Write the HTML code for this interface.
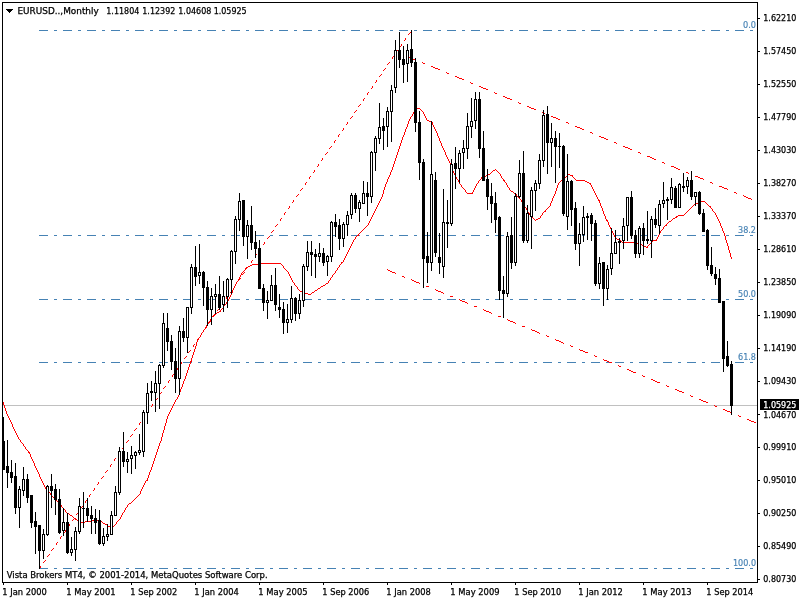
<!DOCTYPE html>
<html><head><meta charset="utf-8"><title>EURUSD Monthly</title>
<style>
html,body{margin:0;padding:0;background:#fff;}
body{width:800px;height:600px;overflow:hidden;position:relative;}
svg{position:absolute;left:0;top:0;display:block;}
text{font-family:"DejaVu Sans Condensed", "Liberation Sans", sans-serif;font-size:9px;fill:#000;stroke:#000;stroke-width:0.25px;}
.b{fill:#4682B4;stroke:#4682B4;stroke-width:0.15px;}
.w{fill:#fff;stroke:#fff;}
</style></head><body>
<svg width="800" height="600" viewBox="0 0 800 600">
<rect x="0" y="0" width="800" height="600" fill="#fff"/>
<g shape-rendering="crispEdges">
<rect x="3" y="405" width="754" height="1" fill="#C0C0C0"/>
<path d="M39 30h9M54 30h3M63 30h9M78 30h3M87 30h9M102 30h3M111 30h9M126 30h3M135 30h9M150 30h3M159 30h9M174 30h3M183 30h9M198 30h3M207 30h9M222 30h3M231 30h9M246 30h3M255 30h9M270 30h3M279 30h9M294 30h3M303 30h9M318 30h3M327 30h9M342 30h3M351 30h9M366 30h3M375 30h9M390 30h3M399 30h9M414 30h3M423 30h9M438 30h3M447 30h9M462 30h3M471 30h9M486 30h3M495 30h9M510 30h3M519 30h9M534 30h3M543 30h9M558 30h3M567 30h9M582 30h3M591 30h9M606 30h3M615 30h9M630 30h3M639 30h9M654 30h3M663 30h9M678 30h3M687 30h9M702 30h3M711 30h9M726 30h3M735 30h9M750 30h3" stroke="#4682B4" stroke-width="1" fill="none" transform="translate(0,0.5)"/>
<path d="M39 235h9M54 235h3M63 235h9M78 235h3M87 235h9M102 235h3M111 235h9M126 235h3M135 235h9M150 235h3M159 235h9M174 235h3M183 235h9M198 235h3M207 235h9M222 235h3M231 235h9M246 235h3M255 235h9M270 235h3M279 235h9M294 235h3M303 235h9M318 235h3M327 235h9M342 235h3M351 235h9M366 235h3M375 235h9M390 235h3M399 235h9M414 235h3M423 235h9M438 235h3M447 235h9M462 235h3M471 235h9M486 235h3M495 235h9M510 235h3M519 235h9M534 235h3M543 235h9M558 235h3M567 235h9M582 235h3M591 235h9M606 235h3M615 235h9M630 235h3M639 235h9M654 235h3M663 235h9M678 235h3M687 235h9M702 235h3M711 235h9M726 235h3M735 235h9M750 235h3" stroke="#4682B4" stroke-width="1" fill="none" transform="translate(0,0.5)"/>
<path d="M39 299h9M54 299h3M63 299h9M78 299h3M87 299h9M102 299h3M111 299h9M126 299h3M135 299h9M150 299h3M159 299h9M174 299h3M183 299h9M198 299h3M207 299h9M222 299h3M231 299h9M246 299h3M255 299h9M270 299h3M279 299h9M294 299h3M303 299h9M318 299h3M327 299h9M342 299h3M351 299h9M366 299h3M375 299h9M390 299h3M399 299h9M414 299h3M423 299h9M438 299h3M447 299h9M462 299h3M471 299h9M486 299h3M495 299h9M510 299h3M519 299h9M534 299h3M543 299h9M558 299h3M567 299h9M582 299h3M591 299h9M606 299h3M615 299h9M630 299h3M639 299h9M654 299h3M663 299h9M678 299h3M687 299h9M702 299h3M711 299h9M726 299h3M735 299h9M750 299h3" stroke="#4682B4" stroke-width="1" fill="none" transform="translate(0,0.5)"/>
<path d="M39 362h9M54 362h3M63 362h9M78 362h3M87 362h9M102 362h3M111 362h9M126 362h3M135 362h9M150 362h3M159 362h9M174 362h3M183 362h9M198 362h3M207 362h9M222 362h3M231 362h9M246 362h3M255 362h9M270 362h3M279 362h9M294 362h3M303 362h9M318 362h3M327 362h9M342 362h3M351 362h9M366 362h3M375 362h9M390 362h3M399 362h9M414 362h3M423 362h9M438 362h3M447 362h9M462 362h3M471 362h9M486 362h3M495 362h9M510 362h3M519 362h9M534 362h3M543 362h9M558 362h3M567 362h9M582 362h3M591 362h9M606 362h3M615 362h9M630 362h3M639 362h9M654 362h3M663 362h9M678 362h3M687 362h9M702 362h3M711 362h9M726 362h3M735 362h9M750 362h3" stroke="#4682B4" stroke-width="1" fill="none" transform="translate(0,0.5)"/>
<path d="M39 568h9M54 568h3M63 568h9M78 568h3M87 568h9M102 568h3M111 568h9M126 568h3M135 568h9M150 568h3M159 568h9M174 568h3M183 568h9M198 568h3M207 568h9M222 568h3M231 568h9M246 568h3M255 568h9M270 568h3M279 568h9M294 568h3M303 568h9M318 568h3M327 568h9M342 568h3M351 568h9M366 568h3M375 568h9M390 568h3M399 568h9M414 568h3M423 568h9M438 568h3M447 568h9M462 568h3M471 568h9M486 568h3M495 568h9M510 568h3M519 568h9M534 568h3M543 568h9M558 568h3M567 568h9M582 568h3M591 568h9M606 568h3M615 568h9M630 568h3M639 568h9M654 568h3M663 568h9M678 568h3M687 568h9M702 568h3M711 568h9M726 568h3M735 568h9M750 568h3" stroke="#4682B4" stroke-width="1" fill="none" transform="translate(0,0.5)"/>
<path d="M3 402h1v3h-1zM4 405h1v3h-1zM5 408h1v3h-1zM6 411h1v3h-1zM7 414h1v2h-1zM8 416h1v2h-1zM9 418h1v2h-1zM10 420h1v2h-1zM11 422h1v2h-1zM12 424h1v3h-1zM13 427h1v2h-1zM14 429h1v2h-1zM15 431h1v2h-1zM16 433h1v2h-1zM17 435h1v2h-1zM18 437h1v2h-1zM19 439h1v1h-1zM20 440h1v2h-1zM21 442h1v1h-1zM22 443h1v1h-1zM23 444h1v2h-1zM24 446h1v1h-1zM25 447h1v2h-1zM26 449h1v1h-1zM27 450h1v1h-1zM28 451h1v2h-1zM29 452h1v2h-1zM30 454h1v3h-1zM31 457h1v2h-1zM32 459h1v2h-1zM33 461h1v2h-1zM34 463h1v3h-1zM35 466h1v2h-1zM36 468h1v2h-1zM37 470h1v2h-1zM38 472h1v2h-1zM39 474h1v3h-1zM40 477h1v2h-1zM41 479h1v2h-1zM42 481h1v2h-1zM43 483h1v2h-1zM44 485h1v2h-1zM45 487h1v2h-1zM46 489h1v1h-1zM47 490h1v1h-1zM48 491h1v1h-1zM49 492h1v1h-1zM50 493h1v2h-1zM51 495h1v1h-1zM52 496h1v1h-1zM53 497h1v1h-1zM54 498h1v1h-1zM55 499h1v1h-1zM56 500h1v1h-1zM57 501h1v1h-1zM58 502h1v1h-1zM59 503h1v1h-1zM60 504h1v1h-1zM61 505h1v2h-1zM62 507h1v1h-1zM63 508h1v1h-1zM64 509h1v1h-1zM65 510h1v2h-1zM66 512h1v1h-1zM67 513h1v1h-1zM68 513h1v1h-1zM69 514h1v1h-1zM70 515h1v1h-1zM71 515h1v1h-1zM72 516h1v1h-1zM73 517h1v1h-1zM74 518h1v1h-1zM75 518h1v2h-1zM76 519h1v1h-1zM77 520h1v1h-1zM78 520h1v1h-1zM79 521h1v1h-1zM80 521h1v1h-1zM81 522h1v1h-1zM82 522h1v1h-1zM83 522h1v1h-1zM84 522h1v1h-1zM85 521h1v1h-1zM86 521h1v1h-1zM87 521h1v1h-1zM88 521h1v1h-1zM89 521h1v1h-1zM90 521h1v1h-1zM91 521h1v1h-1zM92 520h1v1h-1zM93 520h1v1h-1zM94 520h1v1h-1zM95 520h1v1h-1zM96 520h1v1h-1zM97 520h1v1h-1zM98 520h1v1h-1zM99 520h1v1h-1zM100 520h1v1h-1zM101 521h1v1h-1zM102 522h1v1h-1zM103 523h1v1h-1zM104 523h1v1h-1zM105 524h1v1h-1zM106 524h1v1h-1zM107 525h1v1h-1zM108 526h1v1h-1zM109 526h1v1h-1zM110 526h1v1h-1zM111 526h1v1h-1zM112 526h1v1h-1zM113 526h1v1h-1zM114 525h1v1h-1zM115 524h1v1h-1zM116 522h1v2h-1zM117 521h1v1h-1zM118 520h1v1h-1zM119 519h1v1h-1zM120 517h1v2h-1zM121 515h1v2h-1zM122 513h1v2h-1zM123 512h1v1h-1zM124 510h1v2h-1zM125 508h1v2h-1zM126 507h1v1h-1zM127 505h1v2h-1zM128 504h1v1h-1zM129 503h1v1h-1zM130 503h1v1h-1zM131 502h1v1h-1zM132 501h1v1h-1zM133 500h1v1h-1zM134 499h1v1h-1zM135 498h1v1h-1zM136 497h1v1h-1zM137 496h1v1h-1zM138 495h1v1h-1zM139 494h1v1h-1zM140 491h1v3h-1zM141 489h1v2h-1zM142 487h1v2h-1zM143 485h1v2h-1zM144 483h1v2h-1zM145 481h1v2h-1zM146 480h1v1h-1zM147 478h1v3h-1zM148 475h1v3h-1zM149 472h1v3h-1zM150 470h1v2h-1zM151 467h1v3h-1zM152 464h1v3h-1zM153 461h1v3h-1zM154 458h1v3h-1zM155 455h1v3h-1zM156 452h1v3h-1zM157 449h1v3h-1zM158 446h1v3h-1zM159 443h1v3h-1zM160 441h1v2h-1zM161 437h1v4h-1zM162 433h1v4h-1zM163 430h1v3h-1zM164 426h1v4h-1zM165 423h1v3h-1zM166 419h1v4h-1zM167 416h1v3h-1zM168 414h1v2h-1zM169 412h1v2h-1zM170 410h1v2h-1zM171 408h1v2h-1zM172 406h1v2h-1zM173 404h1v2h-1zM174 402h1v2h-1zM175 400h1v2h-1zM176 399h1v1h-1zM177 397h1v2h-1zM178 395h1v2h-1zM179 392h1v3h-1zM180 389h1v3h-1zM181 387h1v2h-1zM182 384h1v3h-1zM183 381h1v3h-1zM184 379h1v2h-1zM185 376h1v3h-1zM186 373h1v3h-1zM187 370h1v3h-1zM188 367h1v3h-1zM189 364h1v3h-1zM190 361h1v3h-1zM191 358h1v4h-1zM192 355h1v3h-1zM193 352h1v3h-1zM194 349h1v3h-1zM195 346h1v3h-1zM196 342h1v4h-1zM197 340h1v2h-1zM198 338h1v2h-1zM199 337h1v1h-1zM200 335h1v2h-1zM201 333h1v2h-1zM202 332h1v1h-1zM203 330h1v2h-1zM204 329h1v1h-1zM205 327h1v2h-1zM206 325h1v2h-1zM207 324h1v1h-1zM208 322h1v2h-1zM209 321h1v1h-1zM210 319h1v2h-1zM211 317h1v2h-1zM212 316h1v1h-1zM213 315h1v1h-1zM214 314h1v1h-1zM215 313h1v1h-1zM216 313h1v1h-1zM217 312h1v1h-1zM218 312h1v1h-1zM219 311h1v1h-1zM220 310h1v2h-1zM221 309h1v1h-1zM222 308h1v1h-1zM223 306h1v2h-1zM224 305h1v1h-1zM225 304h1v1h-1zM226 302h1v2h-1zM227 301h1v1h-1zM228 299h1v2h-1zM229 297h1v2h-1zM230 295h1v2h-1zM231 293h1v2h-1zM232 290h1v3h-1zM233 288h1v2h-1zM234 286h1v2h-1zM235 284h1v2h-1zM236 282h1v2h-1zM237 281h1v1h-1zM238 279h1v2h-1zM239 277h1v2h-1zM240 275h1v2h-1zM241 273h1v2h-1zM242 272h1v1h-1zM243 271h1v1h-1zM244 270h1v1h-1zM245 268h1v2h-1zM246 267h1v1h-1zM247 267h1v1h-1zM248 266h1v1h-1zM249 266h1v1h-1zM250 265h1v1h-1zM251 265h1v1h-1zM252 264h1v1h-1zM253 264h1v1h-1zM254 264h1v1h-1zM255 264h1v1h-1zM256 264h1v1h-1zM257 264h1v1h-1zM258 264h1v1h-1zM259 263h1v1h-1zM260 263h1v1h-1zM261 263h1v1h-1zM262 263h1v1h-1zM263 263h1v1h-1zM264 263h1v1h-1zM265 263h1v1h-1zM266 263h1v1h-1zM267 263h1v1h-1zM268 263h1v1h-1zM269 263h1v1h-1zM270 263h1v1h-1zM271 263h1v1h-1zM272 263h1v1h-1zM273 263h1v1h-1zM274 263h1v1h-1zM275 263h1v1h-1zM276 263h1v1h-1zM277 263h1v1h-1zM278 263h1v1h-1zM279 263h1v1h-1zM280 263h1v1h-1zM281 264h1v1h-1zM282 265h1v1h-1zM283 266h1v2h-1zM284 268h1v1h-1zM285 269h1v1h-1zM286 270h1v1h-1zM287 271h1v1h-1zM288 272h1v2h-1zM289 274h1v2h-1zM290 276h1v2h-1zM291 278h1v2h-1zM292 280h1v2h-1zM293 282h1v1h-1zM294 283h1v2h-1zM295 285h1v1h-1zM296 286h1v1h-1zM297 287h1v2h-1zM298 289h1v1h-1zM299 290h1v1h-1zM300 291h1v1h-1zM301 291h1v1h-1zM302 292h1v1h-1zM303 292h1v1h-1zM304 293h1v1h-1zM305 293h1v1h-1zM306 293h1v1h-1zM307 293h1v1h-1zM308 294h1v1h-1zM309 294h1v1h-1zM310 294h1v1h-1zM311 293h1v1h-1zM312 292h1v1h-1zM313 292h1v1h-1zM314 291h1v1h-1zM315 290h1v1h-1zM316 290h1v1h-1zM317 289h1v1h-1zM318 288h1v1h-1zM319 288h1v1h-1zM320 287h1v1h-1zM321 286h1v1h-1zM322 286h1v1h-1zM323 285h1v1h-1zM324 285h1v1h-1zM325 284h1v1h-1zM326 283h1v1h-1zM327 283h1v1h-1zM328 281h1v2h-1zM329 280h1v1h-1zM330 278h1v2h-1zM331 277h1v1h-1zM332 275h1v2h-1zM333 274h1v1h-1zM334 273h1v1h-1zM335 271h1v2h-1zM336 270h1v1h-1zM337 268h1v2h-1zM338 267h1v1h-1zM339 265h1v2h-1zM340 264h1v1h-1zM341 262h1v2h-1zM342 262h1v1h-1zM343 260h1v2h-1zM344 258h1v2h-1zM345 256h1v2h-1zM346 254h1v2h-1zM347 252h1v2h-1zM348 250h1v2h-1zM349 248h1v2h-1zM350 246h1v2h-1zM351 244h1v2h-1zM352 242h1v2h-1zM353 240h1v2h-1zM354 239h1v1h-1zM355 237h1v2h-1zM356 236h1v1h-1zM357 235h1v1h-1zM358 234h1v2h-1zM359 233h1v1h-1zM360 232h1v1h-1zM361 231h1v1h-1zM362 230h1v1h-1zM363 229h1v1h-1zM364 228h1v1h-1zM365 227h1v1h-1zM366 226h1v1h-1zM367 225h1v1h-1zM368 223h1v2h-1zM369 221h1v2h-1zM370 219h1v2h-1zM371 217h1v2h-1zM372 215h1v2h-1zM373 213h1v2h-1zM374 211h1v2h-1zM375 209h1v2h-1zM376 207h1v2h-1zM377 205h1v2h-1zM378 203h1v2h-1zM379 201h1v2h-1zM380 199h1v2h-1zM381 197h1v2h-1zM382 194h1v3h-1zM383 190h1v4h-1zM384 187h1v3h-1zM385 184h1v3h-1zM386 182h1v2h-1zM387 179h1v3h-1zM388 177h1v2h-1zM389 175h1v2h-1zM390 172h1v3h-1zM391 170h1v2h-1zM392 167h1v3h-1zM393 164h1v3h-1zM394 161h1v3h-1zM395 158h1v3h-1zM396 155h1v3h-1zM397 152h1v3h-1zM398 149h1v3h-1zM399 146h1v3h-1zM400 143h1v3h-1zM401 140h1v3h-1zM402 137h1v3h-1zM403 135h1v2h-1zM404 132h1v3h-1zM405 129h1v3h-1zM406 127h1v2h-1zM407 124h1v3h-1zM408 121h1v3h-1zM409 119h1v2h-1zM410 117h1v2h-1zM411 116h1v1h-1zM412 114h1v2h-1zM413 112h1v2h-1zM414 111h1v1h-1zM415 110h1v1h-1zM416 109h1v1h-1zM417 108h1v1h-1zM418 108h1v1h-1zM419 108h1v1h-1zM420 109h1v1h-1zM421 110h1v1h-1zM422 111h1v1h-1zM423 112h1v2h-1zM424 114h1v2h-1zM425 116h1v2h-1zM426 118h1v2h-1zM427 120h1v1h-1zM428 120h1v1h-1zM429 121h1v1h-1zM430 121h1v1h-1zM431 122h1v1h-1zM432 122h1v3h-1zM433 125h1v2h-1zM434 127h1v2h-1zM435 129h1v2h-1zM436 131h1v2h-1zM437 133h1v3h-1zM438 136h1v2h-1zM439 138h1v3h-1zM440 141h1v2h-1zM441 143h1v3h-1zM442 146h1v2h-1zM443 148h1v2h-1zM444 150h1v2h-1zM445 152h1v3h-1zM446 155h1v2h-1zM447 157h1v2h-1zM448 159h1v2h-1zM449 161h1v2h-1zM450 163h1v3h-1zM451 166h1v2h-1zM452 168h1v3h-1zM453 171h1v2h-1zM454 173h1v2h-1zM455 175h1v2h-1zM456 177h1v2h-1zM457 179h1v1h-1zM458 180h1v2h-1zM459 182h1v2h-1zM460 184h1v1h-1zM461 185h1v2h-1zM462 187h1v1h-1zM463 188h1v1h-1zM464 189h1v1h-1zM465 190h1v2h-1zM466 192h1v1h-1zM467 193h1v1h-1zM468 193h1v1h-1zM469 193h1v1h-1zM470 193h1v1h-1zM471 193h1v1h-1zM472 192h1v2h-1zM473 190h1v2h-1zM474 188h1v2h-1zM475 186h1v2h-1zM476 184h1v2h-1zM477 183h1v1h-1zM478 181h1v2h-1zM479 180h1v1h-1zM480 179h1v1h-1zM481 177h1v2h-1zM482 177h1v1h-1zM483 176h1v1h-1zM484 176h1v1h-1zM485 176h1v1h-1zM486 175h1v1h-1zM487 175h1v1h-1zM488 174h1v1h-1zM489 174h1v1h-1zM490 173h1v1h-1zM491 172h1v1h-1zM492 171h1v1h-1zM493 170h1v1h-1zM494 170h1v1h-1zM495 169h1v1h-1zM496 170h1v1h-1zM497 171h1v1h-1zM498 172h1v1h-1zM499 173h1v1h-1zM500 174h1v2h-1zM501 176h1v2h-1zM502 178h1v1h-1zM503 179h1v2h-1zM504 180h1v2h-1zM505 182h1v1h-1zM506 183h1v2h-1zM507 185h1v2h-1zM508 187h1v1h-1zM509 188h1v2h-1zM510 190h1v1h-1zM511 191h1v1h-1zM512 191h1v1h-1zM513 192h1v1h-1zM514 193h1v1h-1zM515 193h1v1h-1zM516 194h1v2h-1zM517 196h1v1h-1zM518 197h1v1h-1zM519 198h1v1h-1zM520 199h1v1h-1zM521 200h1v2h-1zM522 202h1v2h-1zM523 204h1v2h-1zM524 206h1v1h-1zM525 207h1v1h-1zM526 208h1v2h-1zM527 210h1v2h-1zM528 212h1v1h-1zM529 213h1v2h-1zM530 215h1v1h-1zM531 216h1v1h-1zM532 217h1v1h-1zM533 218h1v1h-1zM534 219h1v1h-1zM535 220h1v1h-1zM536 219h1v1h-1zM537 219h1v1h-1zM538 218h1v1h-1zM539 218h1v1h-1zM540 216h1v2h-1zM541 215h1v1h-1zM542 213h1v2h-1zM543 212h1v1h-1zM544 211h1v1h-1zM545 210h1v2h-1zM546 209h1v1h-1zM547 208h1v1h-1zM548 207h1v1h-1zM549 206h1v1h-1zM550 203h1v3h-1zM551 201h1v2h-1zM552 198h1v3h-1zM553 196h1v2h-1zM554 194h1v2h-1zM555 191h1v3h-1zM556 188h1v3h-1zM557 185h1v3h-1zM558 183h1v2h-1zM559 182h1v1h-1zM560 181h1v1h-1zM561 180h1v1h-1zM562 179h1v2h-1zM563 178h1v1h-1zM564 177h1v1h-1zM565 177h1v1h-1zM566 176h1v1h-1zM567 175h1v1h-1zM568 174h1v1h-1zM569 174h1v1h-1zM570 175h1v1h-1zM571 175h1v1h-1zM572 175h1v2h-1zM573 177h1v1h-1zM574 178h1v1h-1zM575 179h1v1h-1zM576 180h1v1h-1zM577 180h1v1h-1zM578 180h1v1h-1zM579 180h1v1h-1zM580 180h1v1h-1zM581 180h1v1h-1zM582 180h1v1h-1zM583 180h1v1h-1zM584 180h1v1h-1zM585 181h1v1h-1zM586 181h1v1h-1zM587 182h1v1h-1zM588 182h1v1h-1zM589 183h1v1h-1zM590 183h1v2h-1zM591 185h1v2h-1zM592 187h1v2h-1zM593 189h1v2h-1zM594 191h1v2h-1zM595 193h1v2h-1zM596 195h1v2h-1zM597 197h1v2h-1zM598 199h1v2h-1zM599 200h1v3h-1zM600 203h1v3h-1zM601 206h1v2h-1zM602 208h1v3h-1zM603 211h1v3h-1zM604 214h1v2h-1zM605 216h1v3h-1zM606 219h1v2h-1zM607 220h1v2h-1zM608 222h1v3h-1zM609 225h1v2h-1zM610 227h1v2h-1zM611 229h1v2h-1zM612 231h1v2h-1zM613 233h1v2h-1zM614 235h1v2h-1zM615 237h1v2h-1zM616 238h1v1h-1zM617 239h1v1h-1zM618 239h1v1h-1zM619 240h1v1h-1zM620 240h1v1h-1zM621 241h1v1h-1zM622 242h1v1h-1zM623 243h1v1h-1zM624 242h1v1h-1zM625 242h1v1h-1zM626 242h1v1h-1zM627 242h1v1h-1zM628 242h1v1h-1zM629 242h1v1h-1zM630 242h1v1h-1zM631 242h1v1h-1zM632 242h1v1h-1zM633 242h1v1h-1zM634 242h1v1h-1zM635 243h1v1h-1zM636 243h1v1h-1zM637 243h1v1h-1zM638 244h1v1h-1zM639 244h1v1h-1zM640 244h1v1h-1zM641 244h1v1h-1zM642 245h1v1h-1zM643 245h1v1h-1zM644 246h1v1h-1zM645 246h1v1h-1zM646 247h1v1h-1zM647 246h1v2h-1zM648 245h1v1h-1zM649 244h1v1h-1zM650 243h1v1h-1zM651 242h1v1h-1zM652 241h1v1h-1zM653 240h1v1h-1zM654 240h1v1h-1zM655 240h1v1h-1zM656 239h1v2h-1zM657 237h1v2h-1zM658 235h1v2h-1zM659 233h1v2h-1zM660 231h1v2h-1zM661 230h1v1h-1zM662 229h1v1h-1zM663 227h1v2h-1zM664 226h1v1h-1zM665 225h1v1h-1zM666 224h1v2h-1zM667 223h1v1h-1zM668 222h1v1h-1zM669 221h1v1h-1zM670 221h1v1h-1zM671 220h1v1h-1zM672 219h1v1h-1zM673 218h1v1h-1zM674 218h1v1h-1zM675 217h1v1h-1zM676 216h1v2h-1zM677 216h1v1h-1zM678 215h1v1h-1zM679 215h1v1h-1zM680 215h1v1h-1zM681 215h1v1h-1zM682 215h1v1h-1zM683 215h1v1h-1zM684 214h1v1h-1zM685 213h1v1h-1zM686 212h1v1h-1zM687 211h1v1h-1zM688 210h1v1h-1zM689 209h1v1h-1zM690 208h1v1h-1zM691 207h1v1h-1zM692 206h1v1h-1zM693 205h1v1h-1zM694 204h1v1h-1zM695 204h1v1h-1zM696 203h1v1h-1zM697 203h1v1h-1zM698 203h1v1h-1zM699 202h1v1h-1zM700 202h1v1h-1zM701 201h1v1h-1zM702 201h1v1h-1zM703 201h1v1h-1zM704 201h1v1h-1zM705 202h1v1h-1zM706 203h1v1h-1zM707 204h1v1h-1zM708 205h1v1h-1zM709 206h1v1h-1zM710 206h1v2h-1zM711 208h1v1h-1zM712 209h1v2h-1zM713 211h1v1h-1zM714 212h1v1h-1zM715 213h1v2h-1zM716 215h1v2h-1zM717 217h1v2h-1zM718 219h1v2h-1zM719 221h1v2h-1zM720 223h1v3h-1zM721 226h1v2h-1zM722 228h1v3h-1zM723 231h1v2h-1zM724 233h1v3h-1zM725 236h1v4h-1zM726 240h1v3h-1zM727 243h1v3h-1zM728 246h1v4h-1zM729 250h1v3h-1zM730 253h1v4h-1zM731 257h1v2h-1z" fill="#FF0000"/>
<path d="M410 32h1v1h-1zM409 33h1v1h-1zM408 34h1v1h-1zM405 38h1v1h-1zM405 39h1v1h-1zM404 40h1v1h-1zM401 44h1v1h-1zM401 45h1v1h-1zM400 46h1v1h-1zM397 50h1v1h-1zM396 51h1v1h-1zM396 52h1v1h-1zM393 56h1v1h-1zM392 57h1v1h-1zM392 58h1v1h-1zM389 62h1v1h-1zM388 63h1v1h-1zM387 64h1v1h-1zM385 68h1v1h-1zM384 69h1v1h-1zM383 70h1v1h-1zM381 74h1v1h-1zM380 75h1v1h-1zM379 76h1v1h-1zM376 80h1v1h-1zM376 81h1v1h-1zM375 82h1v1h-1zM372 86h1v1h-1zM372 87h1v1h-1zM371 88h1v1h-1zM368 92h1v1h-1zM367 93h1v1h-1zM367 94h1v1h-1zM364 98h1v1h-1zM363 99h1v1h-1zM363 100h1v1h-1zM360 104h1v1h-1zM359 105h1v1h-1zM358 106h1v1h-1zM356 110h1v1h-1zM355 111h1v1h-1zM354 112h1v1h-1zM352 116h1v1h-1zM351 117h1v1h-1zM350 118h1v1h-1zM347 122h1v1h-1zM347 123h1v1h-1zM346 124h1v1h-1zM343 128h1v1h-1zM343 129h1v1h-1zM342 130h1v1h-1zM339 134h1v1h-1zM338 135h1v1h-1zM338 136h1v1h-1zM335 140h1v1h-1zM334 141h1v1h-1zM334 142h1v1h-1zM331 146h1v1h-1zM330 147h1v1h-1zM329 148h1v1h-1zM327 152h1v1h-1zM326 153h1v1h-1zM325 154h1v1h-1zM322 158h1v1h-1zM322 159h1v1h-1zM321 160h1v1h-1zM318 164h1v1h-1zM318 165h1v1h-1zM317 166h1v1h-1zM314 170h1v1h-1zM314 171h1v1h-1zM313 172h1v1h-1zM310 176h1v1h-1zM309 177h1v1h-1zM309 178h1v1h-1zM306 182h1v1h-1zM305 183h1v1h-1zM305 184h1v1h-1zM302 188h1v1h-1zM301 189h1v1h-1zM300 190h1v1h-1zM298 194h1v1h-1zM297 195h1v1h-1zM296 196h1v1h-1zM293 200h1v1h-1zM293 201h1v1h-1zM292 202h1v1h-1zM289 206h1v1h-1zM289 207h1v1h-1zM288 208h1v1h-1zM285 212h1v1h-1zM284 213h1v1h-1zM284 214h1v1h-1zM281 218h1v1h-1zM280 219h1v1h-1zM280 220h1v1h-1zM277 224h1v1h-1zM276 225h1v1h-1zM275 226h1v1h-1zM273 230h1v1h-1zM272 231h1v1h-1zM271 232h1v1h-1zM269 236h1v1h-1zM268 237h1v1h-1zM267 238h1v1h-1zM264 242h1v1h-1zM264 243h1v1h-1zM263 244h1v1h-1zM260 248h1v1h-1zM260 249h1v1h-1zM259 250h1v1h-1zM256 254h1v1h-1zM255 255h1v1h-1zM255 256h1v1h-1zM252 260h1v1h-1zM251 261h1v1h-1zM251 262h1v1h-1zM248 266h1v1h-1zM247 267h1v1h-1zM246 268h1v1h-1zM244 272h1v1h-1zM243 273h1v1h-1zM242 274h1v1h-1zM240 278h1v1h-1zM239 279h1v1h-1zM238 280h1v1h-1zM235 284h1v1h-1zM235 285h1v1h-1zM234 286h1v1h-1zM231 290h1v1h-1zM231 291h1v1h-1zM230 292h1v1h-1zM227 296h1v1h-1zM226 297h1v1h-1zM226 298h1v1h-1zM223 302h1v1h-1zM222 303h1v1h-1zM222 304h1v1h-1zM219 308h1v1h-1zM218 309h1v1h-1zM217 310h1v1h-1zM215 314h1v1h-1zM214 315h1v1h-1zM213 316h1v1h-1zM210 320h1v1h-1zM210 321h1v1h-1zM209 322h1v1h-1zM206 326h1v1h-1zM206 327h1v1h-1zM205 328h1v1h-1zM202 332h1v1h-1zM201 333h1v1h-1zM201 334h1v1h-1zM198 338h1v1h-1zM197 339h1v1h-1zM197 340h1v1h-1zM194 344h1v1h-1zM193 345h1v1h-1zM193 346h1v1h-1zM190 350h1v1h-1zM189 351h1v1h-1zM188 352h1v1h-1zM186 356h1v1h-1zM185 357h1v1h-1zM184 358h1v1h-1zM181 362h1v1h-1zM181 363h1v1h-1zM180 364h1v1h-1zM177 368h1v1h-1zM177 369h1v1h-1zM176 370h1v1h-1zM173 374h1v1h-1zM172 375h1v1h-1zM172 376h1v1h-1zM169 380h1v1h-1zM168 381h1v1h-1zM168 382h1v1h-1zM165 386h1v1h-1zM164 387h1v1h-1zM163 388h1v1h-1zM161 392h1v1h-1zM160 393h1v1h-1zM159 394h1v1h-1zM157 398h1v1h-1zM156 399h1v1h-1zM155 400h1v1h-1zM152 404h1v1h-1zM152 405h1v1h-1zM151 406h1v1h-1zM148 410h1v1h-1zM148 411h1v1h-1zM147 412h1v1h-1zM144 416h1v1h-1zM143 417h1v1h-1zM143 418h1v1h-1zM140 422h1v1h-1zM139 423h1v1h-1zM139 424h1v1h-1zM136 428h1v1h-1zM135 429h1v1h-1zM134 430h1v1h-1zM132 434h1v1h-1zM131 435h1v1h-1zM130 436h1v1h-1zM128 440h1v1h-1zM127 441h1v1h-1zM126 442h1v1h-1zM123 446h1v1h-1zM123 447h1v1h-1zM122 448h1v1h-1zM119 452h1v1h-1zM119 453h1v1h-1zM118 454h1v1h-1zM115 458h1v1h-1zM114 459h1v1h-1zM114 460h1v1h-1zM111 464h1v1h-1zM110 465h1v1h-1zM110 466h1v1h-1zM107 470h1v1h-1zM106 471h1v1h-1zM105 472h1v1h-1zM103 476h1v1h-1zM102 477h1v1h-1zM101 478h1v1h-1zM98 482h1v1h-1zM98 483h1v1h-1zM97 484h1v1h-1zM94 488h1v1h-1zM94 489h1v1h-1zM93 490h1v1h-1zM90 494h1v1h-1zM89 495h1v1h-1zM89 496h1v1h-1zM86 500h1v1h-1zM85 501h1v1h-1zM85 502h1v1h-1zM82 506h1v1h-1zM81 507h1v1h-1zM80 508h1v1h-1zM78 512h1v1h-1zM77 513h1v1h-1zM76 514h1v1h-1zM74 518h1v1h-1zM73 519h1v1h-1zM72 520h1v1h-1zM69 524h1v1h-1zM69 525h1v1h-1zM68 526h1v1h-1zM65 530h1v1h-1zM65 531h1v1h-1zM64 532h1v1h-1zM61 536h1v1h-1zM60 537h1v1h-1zM60 538h1v1h-1zM57 542h1v1h-1zM56 543h1v1h-1zM56 544h1v1h-1zM53 548h1v1h-1zM52 549h1v1h-1zM51 550h1v1h-1zM49 554h1v1h-1zM48 555h1v1h-1zM47 556h1v1h-1zM45 560h1v1h-1zM44 561h1v1h-1zM43 562h1v1h-1zM40 566h1v1h-1zM40 567h1v1h-1zM39 568h1v1h-1z" fill="#FF0000"/>
<path d="M407 56h2v1h-2zM409 57h2v1h-2zM411 58h2v1h-2zM413 59h3v1h-3zM422 62h1v1h-1zM423 63h2v1h-2zM431 66h2v1h-2zM433 67h2v1h-2zM435 68h3v1h-3zM438 69h2v1h-2zM446 72h1v1h-1zM447 73h2v1h-2zM455 76h2v1h-2zM457 77h2v1h-2zM459 78h3v1h-3zM462 79h2v1h-2zM470 82h1v1h-1zM471 83h2v1h-2zM479 86h2v1h-2zM481 87h2v1h-2zM483 88h3v1h-3zM486 89h2v1h-2zM494 92h1v1h-1zM495 93h2v1h-2zM503 96h2v1h-2zM505 97h2v1h-2zM507 98h3v1h-3zM510 99h2v1h-2zM518 102h1v1h-1zM519 103h2v1h-2zM527 106h2v1h-2zM529 107h2v1h-2zM531 108h3v1h-3zM534 109h2v1h-2zM542 112h2v1h-2zM544 113h1v1h-1zM551 116h2v1h-2zM553 117h3v1h-3zM556 118h2v1h-2zM558 119h2v1h-2zM566 122h2v1h-2zM568 123h1v1h-1zM575 126h2v1h-2zM577 127h3v1h-3zM580 128h2v1h-2zM582 129h2v1h-2zM590 132h2v1h-2zM592 133h1v1h-1zM599 136h2v1h-2zM601 137h3v1h-3zM604 138h2v1h-2zM606 139h2v1h-2zM614 142h2v1h-2zM616 143h1v1h-1zM623 146h2v1h-2zM625 147h3v1h-3zM628 148h2v1h-2zM630 149h2v1h-2zM638 152h2v1h-2zM640 153h1v1h-1zM647 156h3v1h-3zM650 157h2v1h-2zM652 158h2v1h-2zM654 159h2v1h-2zM662 162h2v1h-2zM664 163h1v1h-1zM671 166h3v1h-3zM674 167h2v1h-2zM676 168h2v1h-2zM678 169h2v1h-2zM686 172h2v1h-2zM688 173h1v1h-1zM695 176h3v1h-3zM698 177h2v1h-2zM700 178h3v1h-3zM703 179h1v1h-1zM710 182h2v1h-2zM712 183h1v1h-1zM719 186h3v1h-3zM722 187h2v1h-2zM724 188h3v1h-3zM727 189h1v1h-1zM734 192h2v1h-2zM736 193h1v1h-1zM743 195h1v1h-1zM744 196h2v1h-2zM746 197h2v1h-2zM748 198h3v1h-3zM751 199h1v1h-1z" fill="#FF0000"/>
<path d="M387 269h1v1h-1zM388 270h2v1h-2zM390 271h2v1h-2zM392 272h3v1h-3zM395 273h1v1h-1zM402 276h2v1h-2zM404 277h1v1h-1zM411 279h1v1h-1zM412 280h2v1h-2zM414 281h2v1h-2zM416 282h3v1h-3zM419 283h1v1h-1zM426 286h3v1h-3zM435 289h1v1h-1zM436 290h2v1h-2zM438 291h3v1h-3zM441 292h2v1h-2zM443 293h1v1h-1zM450 296h3v1h-3zM459 299h1v1h-1zM460 300h2v1h-2zM462 301h3v1h-3zM465 302h2v1h-2zM467 303h1v1h-1zM474 306h3v1h-3zM483 309h1v1h-1zM484 310h2v1h-2zM486 311h3v1h-3zM489 312h2v1h-2zM491 313h1v1h-1zM498 316h3v1h-3zM507 319h1v1h-1zM508 320h2v1h-2zM510 321h3v1h-3zM513 322h2v1h-2zM515 323h1v1h-1zM522 326h3v1h-3zM531 329h1v1h-1zM532 330h3v1h-3zM535 331h2v1h-2zM537 332h2v1h-2zM539 333h1v1h-1zM546 335h1v1h-1zM547 336h2v1h-2zM555 339h1v1h-1zM556 340h3v1h-3zM559 341h2v1h-2zM561 342h2v1h-2zM563 343h1v1h-1zM570 345h1v1h-1zM571 346h2v1h-2zM579 349h1v1h-1zM580 350h3v1h-3zM583 351h2v1h-2zM585 352h3v1h-3zM594 355h1v1h-1zM595 356h2v1h-2zM603 359h1v1h-1zM604 360h3v1h-3zM607 361h2v1h-2zM609 362h3v1h-3zM618 365h1v1h-1zM619 366h2v1h-2zM627 369h2v1h-2zM629 370h2v1h-2zM631 371h2v1h-2zM633 372h3v1h-3zM642 375h1v1h-1zM643 376h2v1h-2zM651 379h2v1h-2zM653 380h2v1h-2zM655 381h2v1h-2zM657 382h3v1h-3zM666 385h1v1h-1zM667 386h2v1h-2zM675 389h2v1h-2zM677 390h2v1h-2zM679 391h3v1h-3zM682 392h2v1h-2zM690 395h1v1h-1zM691 396h2v1h-2zM699 399h2v1h-2zM701 400h2v1h-2zM703 401h3v1h-3zM706 402h2v1h-2zM714 405h1v1h-1zM715 406h2v1h-2zM723 409h2v1h-2zM725 410h2v1h-2zM727 411h3v1h-3zM730 412h2v1h-2zM738 415h1v1h-1zM739 416h2v1h-2zM747 419h2v1h-2zM749 420h2v1h-2zM751 421h3v1h-3zM754 422h2v1h-2z" fill="#FF0000"/>
<g fill="#000"><rect x="3" y="417" width="1" height="53"/><rect x="2" y="441" width="3" height="29"/><rect x="7" y="440" width="1" height="48"/><rect x="6" y="466" width="3" height="7"/><rect x="11" y="460" width="1" height="23"/><rect x="10" y="472" width="3" height="6"/><rect x="15" y="463" width="1" height="51"/><rect x="14" y="476" width="3" height="32"/><rect x="19" y="486" width="1" height="42"/><rect x="18" y="489" width="3" height="19"/><rect x="23" y="467" width="1" height="29"/><rect x="22" y="479" width="3" height="12"/><rect x="27" y="474" width="1" height="29"/><rect x="26" y="479" width="3" height="19"/><rect x="31" y="495" width="1" height="33"/><rect x="30" y="495" width="3" height="28"/><rect x="35" y="512" width="1" height="42"/><rect x="34" y="521" width="3" height="6"/><rect x="39" y="525" width="1" height="44"/><rect x="38" y="525" width="3" height="26"/><rect x="43" y="529" width="1" height="30"/><rect x="42" y="534" width="3" height="17"/><rect x="47" y="485" width="1" height="51"/><rect x="46" y="486" width="3" height="49"/><rect x="51" y="474" width="1" height="34"/><rect x="50" y="486" width="3" height="5"/><rect x="55" y="484" width="1" height="31"/><rect x="54" y="489" width="3" height="11"/><rect x="59" y="489" width="1" height="45"/><rect x="58" y="499" width="3" height="34"/><rect x="63" y="508" width="1" height="28"/><rect x="62" y="522" width="3" height="9"/><rect x="67" y="513" width="1" height="41"/><rect x="66" y="522" width="3" height="31"/><rect x="71" y="537" width="1" height="19"/><rect x="70" y="549" width="3" height="4"/><rect x="75" y="527" width="1" height="34"/><rect x="74" y="531" width="3" height="19"/><rect x="79" y="498" width="1" height="36"/><rect x="78" y="506" width="3" height="26"/><rect x="83" y="492" width="1" height="36"/><rect x="82" y="508" width="3" height="1"/><rect x="87" y="498" width="1" height="24"/><rect x="86" y="508" width="3" height="8"/><rect x="91" y="506" width="1" height="28"/><rect x="90" y="515" width="3" height="4"/><rect x="95" y="509" width="1" height="25"/><rect x="94" y="518" width="3" height="5"/><rect x="99" y="510" width="1" height="35"/><rect x="98" y="520" width="3" height="24"/><rect x="103" y="528" width="1" height="18"/><rect x="102" y="536" width="3" height="8"/><rect x="107" y="524" width="1" height="17"/><rect x="106" y="534" width="3" height="3"/><rect x="111" y="511" width="1" height="24"/><rect x="110" y="515" width="3" height="20"/><rect x="115" y="486" width="1" height="30"/><rect x="114" y="492" width="3" height="24"/><rect x="119" y="447" width="1" height="48"/><rect x="118" y="451" width="3" height="42"/><rect x="123" y="432" width="1" height="35"/><rect x="122" y="451" width="3" height="11"/><rect x="127" y="452" width="1" height="21"/><rect x="126" y="459" width="3" height="3"/><rect x="131" y="446" width="1" height="28"/><rect x="130" y="455" width="3" height="4"/><rect x="135" y="451" width="1" height="18"/><rect x="134" y="452" width="3" height="4"/><rect x="139" y="434" width="1" height="21"/><rect x="138" y="450" width="3" height="3"/><rect x="143" y="410" width="1" height="47"/><rect x="142" y="412" width="3" height="40"/><rect x="147" y="383" width="1" height="41"/><rect x="146" y="393" width="3" height="20"/><rect x="151" y="381" width="1" height="20"/><rect x="150" y="391" width="3" height="2"/><rect x="155" y="371" width="1" height="41"/><rect x="154" y="383" width="3" height="10"/><rect x="159" y="364" width="1" height="45"/><rect x="158" y="365" width="3" height="19"/><rect x="163" y="313" width="1" height="55"/><rect x="162" y="323" width="3" height="43"/><rect x="167" y="313" width="1" height="38"/><rect x="166" y="328" width="3" height="14"/><rect x="171" y="335" width="1" height="35"/><rect x="170" y="341" width="3" height="21"/><rect x="175" y="348" width="1" height="45"/><rect x="174" y="361" width="3" height="18"/><rect x="179" y="326" width="1" height="69"/><rect x="178" y="331" width="3" height="48"/><rect x="183" y="318" width="1" height="24"/><rect x="182" y="331" width="3" height="7"/><rect x="187" y="307" width="1" height="46"/><rect x="186" y="307" width="3" height="31"/><rect x="191" y="264" width="1" height="50"/><rect x="190" y="267" width="3" height="41"/><rect x="195" y="246" width="1" height="40"/><rect x="194" y="267" width="3" height="10"/><rect x="199" y="244" width="1" height="40"/><rect x="198" y="272" width="3" height="4"/><rect x="203" y="271" width="1" height="35"/><rect x="202" y="272" width="3" height="16"/><rect x="207" y="281" width="1" height="45"/><rect x="206" y="287" width="3" height="23"/><rect x="211" y="288" width="1" height="37"/><rect x="210" y="296" width="3" height="14"/><rect x="215" y="284" width="1" height="30"/><rect x="214" y="294" width="3" height="3"/><rect x="219" y="276" width="1" height="34"/><rect x="218" y="294" width="3" height="14"/><rect x="223" y="281" width="1" height="31"/><rect x="222" y="296" width="3" height="9"/><rect x="227" y="278" width="1" height="30"/><rect x="226" y="279" width="3" height="18"/><rect x="231" y="250" width="1" height="44"/><rect x="230" y="251" width="3" height="29"/><rect x="235" y="216" width="1" height="48"/><rect x="234" y="219" width="3" height="33"/><rect x="239" y="193" width="1" height="38"/><rect x="238" y="201" width="3" height="19"/><rect x="243" y="200" width="1" height="46"/><rect x="242" y="200" width="3" height="37"/><rect x="247" y="220" width="1" height="39"/><rect x="246" y="225" width="3" height="12"/><rect x="251" y="206" width="1" height="44"/><rect x="250" y="225" width="3" height="18"/><rect x="255" y="231" width="1" height="27"/><rect x="254" y="242" width="3" height="7"/><rect x="259" y="240" width="1" height="49"/><rect x="258" y="248" width="3" height="41"/><rect x="263" y="284" width="1" height="27"/><rect x="262" y="288" width="3" height="15"/><rect x="267" y="291" width="1" height="28"/><rect x="266" y="300" width="3" height="3"/><rect x="271" y="275" width="1" height="26"/><rect x="270" y="285" width="3" height="16"/><rect x="275" y="268" width="1" height="43"/><rect x="274" y="285" width="3" height="20"/><rect x="279" y="294" width="1" height="24"/><rect x="278" y="307" width="3" height="3"/><rect x="283" y="302" width="1" height="32"/><rect x="282" y="309" width="3" height="14"/><rect x="287" y="304" width="1" height="29"/><rect x="286" y="319" width="3" height="4"/><rect x="291" y="286" width="1" height="37"/><rect x="290" y="298" width="3" height="22"/><rect x="295" y="297" width="1" height="24"/><rect x="294" y="298" width="3" height="16"/><rect x="299" y="294" width="1" height="25"/><rect x="298" y="300" width="3" height="14"/><rect x="303" y="264" width="1" height="43"/><rect x="302" y="266" width="3" height="35"/><rect x="307" y="241" width="1" height="30"/><rect x="306" y="252" width="3" height="15"/><rect x="311" y="241" width="1" height="35"/><rect x="310" y="252" width="3" height="3"/><rect x="315" y="249" width="1" height="29"/><rect x="314" y="254" width="3" height="3"/><rect x="319" y="243" width="1" height="19"/><rect x="318" y="253" width="3" height="4"/><rect x="323" y="248" width="1" height="18"/><rect x="322" y="253" width="3" height="10"/><rect x="327" y="255" width="1" height="21"/><rect x="326" y="256" width="3" height="6"/><rect x="331" y="221" width="1" height="41"/><rect x="330" y="222" width="3" height="35"/><rect x="335" y="214" width="1" height="23"/><rect x="334" y="222" width="3" height="5"/><rect x="339" y="219" width="1" height="31"/><rect x="338" y="225" width="3" height="14"/><rect x="343" y="222" width="1" height="25"/><rect x="342" y="224" width="3" height="15"/><rect x="347" y="211" width="1" height="25"/><rect x="346" y="215" width="3" height="10"/><rect x="351" y="193" width="1" height="26"/><rect x="350" y="195" width="3" height="20"/><rect x="355" y="193" width="1" height="20"/><rect x="354" y="195" width="3" height="14"/><rect x="359" y="200" width="1" height="22"/><rect x="358" y="202" width="3" height="7"/><rect x="363" y="181" width="1" height="23"/><rect x="362" y="193" width="3" height="11"/><rect x="367" y="182" width="1" height="34"/><rect x="366" y="193" width="3" height="4"/><rect x="371" y="151" width="1" height="52"/><rect x="370" y="152" width="3" height="45"/><rect x="375" y="136" width="1" height="35"/><rect x="374" y="138" width="3" height="15"/><rect x="379" y="103" width="1" height="41"/><rect x="378" y="127" width="3" height="12"/><rect x="383" y="118" width="1" height="32"/><rect x="382" y="126" width="3" height="5"/><rect x="387" y="107" width="1" height="40"/><rect x="386" y="111" width="3" height="16"/><rect x="391" y="85" width="1" height="57"/><rect x="390" y="90" width="3" height="22"/><rect x="395" y="40" width="1" height="53"/><rect x="394" y="50" width="3" height="38"/><rect x="399" y="32" width="1" height="36"/><rect x="398" y="50" width="3" height="10"/><rect x="403" y="46" width="1" height="37"/><rect x="402" y="59" width="3" height="6"/><rect x="407" y="44" width="1" height="38"/><rect x="406" y="50" width="3" height="14"/><rect x="411" y="30" width="1" height="37"/><rect x="410" y="49" width="3" height="14"/><rect x="415" y="58" width="1" height="74"/><rect x="414" y="62" width="3" height="61"/><rect x="419" y="111" width="1" height="69"/><rect x="418" y="122" width="3" height="41"/><rect x="423" y="159" width="1" height="129"/><rect x="422" y="162" width="3" height="97"/><rect x="427" y="232" width="1" height="51"/><rect x="426" y="256" width="3" height="7"/><rect x="431" y="121" width="1" height="150"/><rect x="430" y="174" width="3" height="89"/><rect x="435" y="172" width="1" height="85"/><rect x="434" y="180" width="3" height="73"/><rect x="439" y="233" width="1" height="41"/><rect x="438" y="257" width="3" height="6"/><rect x="443" y="189" width="1" height="89"/><rect x="442" y="222" width="3" height="45"/><rect x="447" y="200" width="1" height="48"/><rect x="446" y="222" width="3" height="2"/><rect x="451" y="159" width="1" height="67"/><rect x="450" y="164" width="3" height="60"/><rect x="455" y="147" width="1" height="42"/><rect x="454" y="163" width="3" height="6"/><rect x="459" y="150" width="1" height="33"/><rect x="458" y="153" width="3" height="16"/><rect x="463" y="140" width="1" height="29"/><rect x="462" y="148" width="3" height="5"/><rect x="467" y="113" width="1" height="46"/><rect x="466" y="126" width="3" height="23"/><rect x="471" y="98" width="1" height="40"/><rect x="470" y="121" width="3" height="6"/><rect x="475" y="92" width="1" height="37"/><rect x="474" y="99" width="3" height="22"/><rect x="479" y="92" width="1" height="66"/><rect x="478" y="99" width="3" height="50"/><rect x="483" y="131" width="1" height="50"/><rect x="482" y="148" width="3" height="33"/><rect x="487" y="169" width="1" height="41"/><rect x="486" y="179" width="3" height="18"/><rect x="491" y="183" width="1" height="40"/><rect x="490" y="196" width="3" height="8"/><rect x="495" y="192" width="1" height="41"/><rect x="494" y="203" width="3" height="17"/><rect x="499" y="216" width="1" height="84"/><rect x="498" y="217" width="3" height="74"/><rect x="503" y="276" width="1" height="42"/><rect x="502" y="290" width="3" height="4"/><rect x="507" y="232" width="1" height="65"/><rect x="506" y="236" width="3" height="58"/><rect x="511" y="217" width="1" height="52"/><rect x="510" y="235" width="3" height="28"/><rect x="515" y="193" width="1" height="73"/><rect x="514" y="196" width="3" height="67"/><rect x="519" y="160" width="1" height="38"/><rect x="518" y="173" width="3" height="24"/><rect x="523" y="151" width="1" height="92"/><rect x="522" y="173" width="3" height="68"/><rect x="527" y="205" width="1" height="38"/><rect x="526" y="213" width="3" height="28"/><rect x="531" y="187" width="1" height="62"/><rect x="530" y="190" width="3" height="27"/><rect x="535" y="180" width="1" height="31"/><rect x="534" y="183" width="3" height="8"/><rect x="539" y="154" width="1" height="35"/><rect x="538" y="160" width="3" height="24"/><rect x="543" y="110" width="1" height="57"/><rect x="542" y="115" width="3" height="46"/><rect x="547" y="106" width="1" height="68"/><rect x="546" y="114" width="3" height="29"/><rect x="551" y="123" width="1" height="44"/><rect x="550" y="138" width="3" height="5"/><rect x="555" y="131" width="1" height="52"/><rect x="554" y="138" width="3" height="9"/><rect x="559" y="133" width="1" height="35"/><rect x="558" y="146" width="3" height="1"/><rect x="563" y="145" width="1" height="71"/><rect x="562" y="146" width="3" height="68"/><rect x="567" y="154" width="1" height="76"/><rect x="566" y="181" width="3" height="36"/><rect x="571" y="180" width="1" height="46"/><rect x="570" y="181" width="3" height="29"/><rect x="575" y="202" width="1" height="48"/><rect x="574" y="208" width="3" height="36"/><rect x="579" y="223" width="1" height="43"/><rect x="578" y="234" width="3" height="10"/><rect x="583" y="206" width="1" height="36"/><rect x="582" y="217" width="3" height="18"/><rect x="587" y="213" width="1" height="27"/><rect x="586" y="216" width="3" height="2"/><rect x="591" y="213" width="1" height="28"/><rect x="590" y="215" width="3" height="9"/><rect x="595" y="220" width="1" height="66"/><rect x="594" y="223" width="3" height="61"/><rect x="599" y="257" width="1" height="32"/><rect x="598" y="263" width="3" height="21"/><rect x="603" y="262" width="1" height="44"/><rect x="602" y="262" width="3" height="27"/><rect x="607" y="265" width="1" height="35"/><rect x="606" y="269" width="3" height="20"/><rect x="611" y="228" width="1" height="47"/><rect x="610" y="253" width="3" height="16"/><rect x="615" y="230" width="1" height="24"/><rect x="614" y="242" width="3" height="12"/><rect x="619" y="238" width="1" height="26"/><rect x="618" y="241" width="3" height="2"/><rect x="623" y="218" width="1" height="31"/><rect x="622" y="226" width="3" height="15"/><rect x="627" y="197" width="1" height="44"/><rect x="626" y="197" width="3" height="29"/><rect x="631" y="191" width="1" height="48"/><rect x="630" y="197" width="3" height="39"/><rect x="635" y="230" width="1" height="28"/><rect x="634" y="235" width="3" height="19"/><rect x="639" y="226" width="1" height="32"/><rect x="638" y="228" width="3" height="26"/><rect x="643" y="223" width="1" height="32"/><rect x="642" y="228" width="3" height="13"/><rect x="647" y="211" width="1" height="33"/><rect x="646" y="239" width="3" height="2"/><rect x="651" y="216" width="1" height="42"/><rect x="650" y="219" width="3" height="22"/><rect x="655" y="208" width="1" height="20"/><rect x="654" y="219" width="3" height="6"/><rect x="659" y="200" width="1" height="34"/><rect x="658" y="204" width="3" height="22"/><rect x="663" y="182" width="1" height="26"/><rect x="662" y="200" width="3" height="4"/><rect x="667" y="197" width="1" height="23"/><rect x="666" y="199" width="3" height="2"/><rect x="671" y="178" width="1" height="26"/><rect x="670" y="187" width="3" height="13"/><rect x="675" y="186" width="1" height="22"/><rect x="674" y="188" width="3" height="20"/><rect x="679" y="183" width="1" height="25"/><rect x="678" y="184" width="3" height="24"/><rect x="683" y="173" width="1" height="19"/><rect x="682" y="186" width="3" height="2"/><rect x="687" y="177" width="1" height="17"/><rect x="686" y="180" width="3" height="7"/><rect x="691" y="171" width="1" height="29"/><rect x="690" y="180" width="3" height="17"/><rect x="695" y="192" width="1" height="14"/><rect x="694" y="192" width="3" height="5"/><rect x="699" y="191" width="1" height="24"/><rect x="698" y="192" width="3" height="22"/><rect x="703" y="209" width="1" height="23"/><rect x="702" y="213" width="3" height="19"/><rect x="707" y="229" width="1" height="41"/><rect x="706" y="230" width="3" height="36"/><rect x="711" y="247" width="1" height="29"/><rect x="710" y="265" width="3" height="9"/><rect x="715" y="267" width="1" height="18"/><rect x="714" y="274" width="3" height="5"/><rect x="719" y="269" width="1" height="34"/><rect x="718" y="278" width="3" height="25"/><rect x="723" y="301" width="1" height="71"/><rect x="722" y="301" width="3" height="58"/><rect x="727" y="341" width="1" height="26"/><rect x="726" y="356" width="3" height="10"/><rect x="731" y="361" width="1" height="54"/><rect x="730" y="364" width="3" height="42"/></g>
<g fill="#fff"><rect x="19" y="490" width="1" height="17"/><rect x="23" y="480" width="1" height="10"/><rect x="43" y="535" width="1" height="15"/><rect x="47" y="487" width="1" height="47"/><rect x="63" y="523" width="1" height="7"/><rect x="71" y="550" width="1" height="2"/><rect x="75" y="532" width="1" height="17"/><rect x="79" y="507" width="1" height="24"/><rect x="103" y="537" width="1" height="6"/><rect x="107" y="535" width="1" height="1"/><rect x="111" y="516" width="1" height="18"/><rect x="115" y="493" width="1" height="22"/><rect x="119" y="452" width="1" height="40"/><rect x="127" y="460" width="1" height="1"/><rect x="131" y="456" width="1" height="2"/><rect x="135" y="453" width="1" height="2"/><rect x="139" y="451" width="1" height="1"/><rect x="143" y="413" width="1" height="38"/><rect x="147" y="394" width="1" height="18"/><rect x="155" y="384" width="1" height="8"/><rect x="159" y="366" width="1" height="17"/><rect x="163" y="324" width="1" height="41"/><rect x="179" y="332" width="1" height="46"/><rect x="187" y="308" width="1" height="29"/><rect x="191" y="268" width="1" height="39"/><rect x="199" y="273" width="1" height="2"/><rect x="211" y="297" width="1" height="12"/><rect x="215" y="295" width="1" height="1"/><rect x="223" y="297" width="1" height="7"/><rect x="227" y="280" width="1" height="16"/><rect x="231" y="252" width="1" height="27"/><rect x="235" y="220" width="1" height="31"/><rect x="239" y="202" width="1" height="17"/><rect x="247" y="226" width="1" height="10"/><rect x="267" y="301" width="1" height="1"/><rect x="271" y="286" width="1" height="14"/><rect x="287" y="320" width="1" height="2"/><rect x="291" y="299" width="1" height="20"/><rect x="299" y="301" width="1" height="12"/><rect x="303" y="267" width="1" height="33"/><rect x="307" y="253" width="1" height="13"/><rect x="319" y="254" width="1" height="2"/><rect x="327" y="257" width="1" height="4"/><rect x="331" y="223" width="1" height="33"/><rect x="343" y="225" width="1" height="13"/><rect x="347" y="216" width="1" height="8"/><rect x="351" y="196" width="1" height="18"/><rect x="359" y="203" width="1" height="5"/><rect x="363" y="194" width="1" height="9"/><rect x="371" y="153" width="1" height="43"/><rect x="375" y="139" width="1" height="13"/><rect x="379" y="128" width="1" height="10"/><rect x="387" y="112" width="1" height="14"/><rect x="391" y="91" width="1" height="20"/><rect x="395" y="51" width="1" height="36"/><rect x="407" y="51" width="1" height="12"/><rect x="431" y="175" width="1" height="87"/><rect x="443" y="223" width="1" height="43"/><rect x="451" y="165" width="1" height="58"/><rect x="459" y="154" width="1" height="14"/><rect x="463" y="149" width="1" height="3"/><rect x="467" y="127" width="1" height="21"/><rect x="471" y="122" width="1" height="4"/><rect x="475" y="100" width="1" height="20"/><rect x="507" y="237" width="1" height="56"/><rect x="515" y="197" width="1" height="65"/><rect x="519" y="174" width="1" height="22"/><rect x="527" y="214" width="1" height="26"/><rect x="531" y="191" width="1" height="25"/><rect x="535" y="184" width="1" height="6"/><rect x="539" y="161" width="1" height="22"/><rect x="543" y="116" width="1" height="44"/><rect x="551" y="139" width="1" height="3"/><rect x="567" y="182" width="1" height="34"/><rect x="579" y="235" width="1" height="8"/><rect x="583" y="218" width="1" height="16"/><rect x="599" y="264" width="1" height="19"/><rect x="607" y="270" width="1" height="18"/><rect x="611" y="254" width="1" height="14"/><rect x="615" y="243" width="1" height="10"/><rect x="623" y="227" width="1" height="13"/><rect x="627" y="198" width="1" height="27"/><rect x="639" y="229" width="1" height="24"/><rect x="651" y="220" width="1" height="20"/><rect x="659" y="205" width="1" height="20"/><rect x="663" y="201" width="1" height="2"/><rect x="671" y="188" width="1" height="11"/><rect x="679" y="185" width="1" height="22"/><rect x="687" y="181" width="1" height="5"/><rect x="695" y="193" width="1" height="3"/></g>
<g fill="#000">
<rect x="2" y="2" width="756" height="1"/>
<rect x="2" y="2" width="1" height="581"/>
<rect x="757" y="2" width="1" height="581"/>
<rect x="2" y="582" width="756" height="1"/>
<rect x="758" y="18" width="2" height="1"/>
<rect x="758" y="51" width="2" height="1"/>
<rect x="758" y="84" width="2" height="1"/>
<rect x="758" y="117" width="2" height="1"/>
<rect x="758" y="150" width="2" height="1"/>
<rect x="758" y="183" width="2" height="1"/>
<rect x="758" y="216" width="2" height="1"/>
<rect x="758" y="249" width="2" height="1"/>
<rect x="758" y="282" width="2" height="1"/>
<rect x="758" y="315" width="2" height="1"/>
<rect x="758" y="348" width="2" height="1"/>
<rect x="758" y="381" width="2" height="1"/>
<rect x="758" y="414" width="2" height="1"/>
<rect x="758" y="447" width="2" height="1"/>
<rect x="758" y="480" width="2" height="1"/>
<rect x="758" y="513" width="2" height="1"/>
<rect x="758" y="546" width="2" height="1"/>
<rect x="758" y="579" width="2" height="1"/>
<rect x="3" y="583" width="1" height="2"/>
<rect x="67" y="583" width="1" height="2"/>
<rect x="131" y="583" width="1" height="2"/>
<rect x="195" y="583" width="1" height="2"/>
<rect x="259" y="583" width="1" height="2"/>
<rect x="323" y="583" width="1" height="2"/>
<rect x="387" y="583" width="1" height="2"/>
<rect x="451" y="583" width="1" height="2"/>
<rect x="515" y="583" width="1" height="2"/>
<rect x="579" y="583" width="1" height="2"/>
<rect x="643" y="583" width="1" height="2"/>
<rect x="707" y="583" width="1" height="2"/>
<rect x="760" y="399" width="39" height="11"/>
<path d="M6 9h7v1h-1v1h-1v1h-1v1h-1v-1h-1v-1h-1v-1h-1z"/>
</g>
</g>
<text x="763.3" y="21" textLength="33" lengthAdjust="spacingAndGlyphs">1.62210</text>
<text x="763.3" y="54" textLength="33" lengthAdjust="spacingAndGlyphs">1.57450</text>
<text x="763.3" y="87" textLength="33" lengthAdjust="spacingAndGlyphs">1.52550</text>
<text x="763.3" y="120" textLength="33" lengthAdjust="spacingAndGlyphs">1.47790</text>
<text x="763.3" y="153" textLength="33" lengthAdjust="spacingAndGlyphs">1.43030</text>
<text x="763.3" y="186" textLength="33" lengthAdjust="spacingAndGlyphs">1.38270</text>
<text x="763.3" y="219" textLength="33" lengthAdjust="spacingAndGlyphs">1.33370</text>
<text x="763.3" y="252" textLength="33" lengthAdjust="spacingAndGlyphs">1.28610</text>
<text x="763.3" y="285" textLength="33" lengthAdjust="spacingAndGlyphs">1.23850</text>
<text x="763.3" y="318" textLength="33" lengthAdjust="spacingAndGlyphs">1.19090</text>
<text x="763.3" y="351" textLength="33" lengthAdjust="spacingAndGlyphs">1.14190</text>
<text x="763.3" y="384" textLength="33" lengthAdjust="spacingAndGlyphs">1.09430</text>
<text x="763.3" y="418" textLength="33" lengthAdjust="spacingAndGlyphs">1.04670</text>
<text x="763.3" y="450" textLength="33" lengthAdjust="spacingAndGlyphs">0.99910</text>
<text x="763.3" y="483" textLength="33" lengthAdjust="spacingAndGlyphs">0.95010</text>
<text x="763.3" y="516" textLength="33" lengthAdjust="spacingAndGlyphs">0.90250</text>
<text x="763.3" y="549" textLength="33" lengthAdjust="spacingAndGlyphs">0.85490</text>
<text x="763.3" y="582" textLength="33" lengthAdjust="spacingAndGlyphs">0.80730</text>
<text x="763.3" y="408" textLength="33" lengthAdjust="spacingAndGlyphs" class="w">1.05925</text>
<text x="2.3" y="595" textLength="44.5" lengthAdjust="spacingAndGlyphs">1 Jan 2000</text>
<text x="66.3" y="595" textLength="49.3" lengthAdjust="spacingAndGlyphs">1 May 2001</text>
<text x="130.3" y="595" textLength="47" lengthAdjust="spacingAndGlyphs">1 Sep 2002</text>
<text x="194.3" y="595" textLength="44.5" lengthAdjust="spacingAndGlyphs">1 Jan 2004</text>
<text x="258.3" y="595" textLength="49.3" lengthAdjust="spacingAndGlyphs">1 May 2005</text>
<text x="322.3" y="595" textLength="47" lengthAdjust="spacingAndGlyphs">1 Sep 2006</text>
<text x="386.3" y="595" textLength="44.5" lengthAdjust="spacingAndGlyphs">1 Jan 2008</text>
<text x="450.3" y="595" textLength="49.3" lengthAdjust="spacingAndGlyphs">1 May 2009</text>
<text x="514.3" y="595" textLength="47" lengthAdjust="spacingAndGlyphs">1 Sep 2010</text>
<text x="578.3" y="595" textLength="44.5" lengthAdjust="spacingAndGlyphs">1 Jan 2012</text>
<text x="642.3" y="595" textLength="49.3" lengthAdjust="spacingAndGlyphs">1 May 2013</text>
<text x="706.3" y="595" textLength="47" lengthAdjust="spacingAndGlyphs">1 Sep 2014</text>
<text x="17.5" y="14" textLength="81.2" lengthAdjust="spacingAndGlyphs">EURUSD..,Monthly</text>
<text x="106.3" y="14" textLength="33" lengthAdjust="spacingAndGlyphs">1.11804</text>
<text x="142.3" y="14" textLength="33" lengthAdjust="spacingAndGlyphs">1.12392</text>
<text x="178.3" y="14" textLength="33" lengthAdjust="spacingAndGlyphs">1.04608</text>
<text x="213.70000000000002" y="14" textLength="33" lengthAdjust="spacingAndGlyphs">1.05925</text>
<text x="6.7" y="578" textLength="261" lengthAdjust="spacingAndGlyphs">Vista Brokers MT4, © 2001-2014, MetaQuotes Software Corp.</text>
<text x="743" y="28" textLength="13" lengthAdjust="spacingAndGlyphs" class="b">0.0</text>
<text x="738" y="233" textLength="18" lengthAdjust="spacingAndGlyphs" class="b">38.2</text>
<text x="738" y="297" textLength="18" lengthAdjust="spacingAndGlyphs" class="b">50.0</text>
<text x="738" y="360" textLength="18" lengthAdjust="spacingAndGlyphs" class="b">61.8</text>
<text x="733" y="566" textLength="23" lengthAdjust="spacingAndGlyphs" class="b">100.0</text>
</svg></body></html>
